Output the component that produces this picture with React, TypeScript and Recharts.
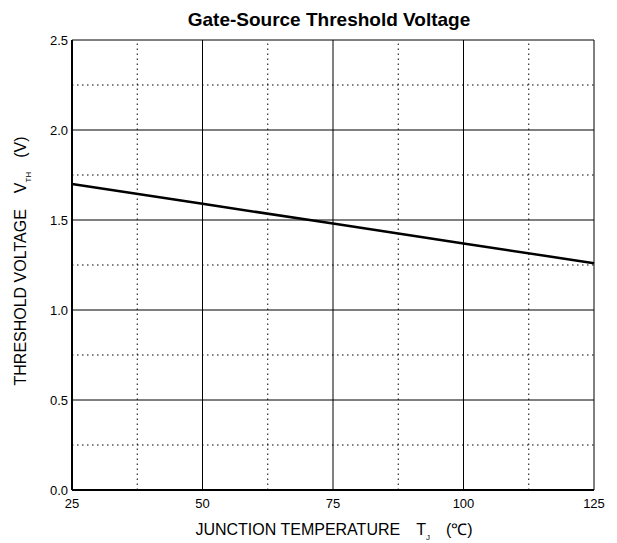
import React from "react";
import {
  LineChart,
  Line,
  XAxis,
  YAxis,
  CartesianGrid,
  ReferenceLine,
  Customized,
} from "recharts";

const temperatures = [25, 50, 75, 100, 125];
const thresholdVoltage = [1.7, 1.59, 1.48, 1.37, 1.26];
const xTicks = [25, 50, 75, 100, 125];
const yTicks = [0, 0.5, 1.0, 1.5, 2.0, 2.5];
const xMinor = [37.5, 62.5, 87.5, 112.5];
const yMinor = [0.25, 0.75, 1.25, 1.75, 2.25];

const data = temperatures.map((t, i) => ({ t, v: thresholdVoltage[i] }));

const FONT = "'Liberation Sans', Arial, sans-serif";

const Labels = () => (
  <g fontFamily={FONT} fill="#000">
    <text x={321} y={18} textAnchor="middle" fontSize={19} fontWeight="bold">
      Gate-Source Threshold Voltage
    </text>
    <text x={326} y={527} textAnchor="middle" fontSize={16}>
      <tspan>JUNCTION TEMPERATURE</tspan>
      <tspan dx={16}>T</tspan>
      <tspan dy={5} fontSize={8}>J</tspan>
      <tspan dx={16} dy={-5}>(℃)</tspan>
    </text>
    <text
      transform="translate(18,253) rotate(-90)"
      textAnchor="middle"
      fontSize={16}
    >
      <tspan>THRESHOLD VOLTAGE</tspan>
      <tspan dx={16}>V</tspan>
      <tspan dy={5} fontSize={8}>TH</tspan>
      <tspan dx={14} dy={-5}>(V)</tspan>
    </text>
  </g>
);

export default function App() {
  return (
    <LineChart
      width={609}
      height={535}
      data={data}
      margin={{ top: 32, right: 23, bottom: 23, left: 14 }}
    >
      <CartesianGrid
        horizontal
        vertical
        stroke="#000"
        strokeWidth={1}
        fill="none"
      />
      {xMinor.map((x) => (
        <ReferenceLine
          key={"x" + x}
          x={x}
          stroke="#000"
          strokeWidth={1}
          strokeDasharray="1.5 3.5"
        />
      ))}
      {yMinor.map((y) => (
        <ReferenceLine
          key={"y" + y}
          y={y}
          stroke="#000"
          strokeWidth={1}
          strokeDasharray="1.5 3.5"
        />
      ))}
      <XAxis
        dataKey="t"
        type="number"
        domain={[25, 125]}
        ticks={xTicks}
        height={30}
        tickLine={false}
        tickSize={6}
        axisLine={{ stroke: "#000", strokeWidth: 2 }}
        tick={{ fill: "#000", fontSize: 13, fontFamily: FONT }}
        tickMargin={3}
        interval={0}
      />
      <YAxis
        type="number"
        domain={[0, 2.5]}
        ticks={yTicks}
        width={50}
        tickLine={false}
        tickSize={2}
        axisLine={{ stroke: "#000", strokeWidth: 2 }}
        tick={{ fill: "#000", fontSize: 13, fontFamily: FONT }}
        tickFormatter={(v: number) => v.toFixed(1)}
        tickMargin={2}
        interval={0}
      />
      <Line
        dataKey="v"
        stroke="#000"
        strokeWidth={2.5}
        dot={false}
        isAnimationActive={false}
      />
      <Customized component={Labels} />
    </LineChart>
  );
}
